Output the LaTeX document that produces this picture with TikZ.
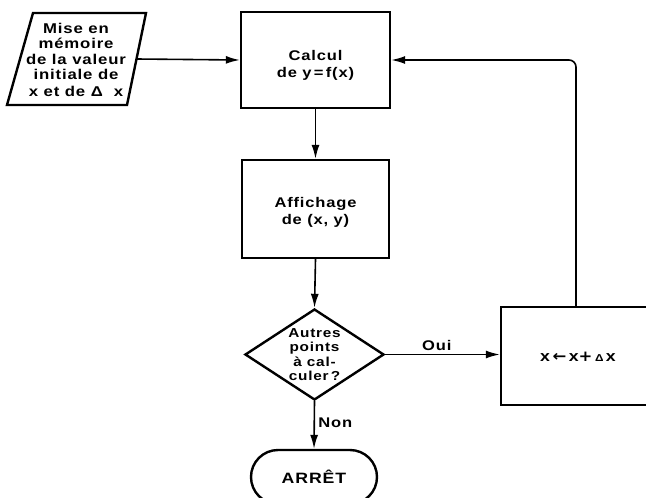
\documentclass[tikz,border=0pt]{standalone}
\usepackage{fontspec}
\setmainfont{Liberation Sans}[FakeStretch=1.18, LetterSpace=6]
\newfontfamily\symfont{DejaVu Sans}[FakeStretch=1.1]
\usetikzlibrary{shapes.geometric,shapes.misc,arrows.meta}
\begin{document}
\begin{tikzpicture}[x=1pt,y=-1pt,
  every node/.style={font=\fontsize{14}{17}\selectfont\bfseries, align=center},
  boxstyle/.style={draw, line width=2.4pt, rectangle, inner sep=0pt},
  arr/.style={-{Latex[length=14pt,width=8pt]}, line width=1.6pt}]
\clip (0,0) rectangle (646,498);
% input parallelogram
\coordinate (p1) at (33,13);
\coordinate (p2) at (146,13);
\coordinate (p3) at (127,105);
\coordinate (p4) at (7,105);
\draw[line width=2.4pt, line join=miter] (p1) -- (p2) -- (p3) -- (p4) -- cycle;
\node[font=\fontsize{14.2}{15.5}\selectfont\bfseries] (input) at (76,59.5) {Mise en\\mémoire\\de la valeur\\initiale de\\[1pt]x et de Δ\ \ x};
\coordinate (pout) at (136.5,59);
% boxes
\node[boxstyle, minimum width=149pt, minimum height=96pt] (calc) at (315.5,60) {};
\node (calctext) at (315.5,65) {Calcul\\de y\,=\,f(x)};
\node[boxstyle, minimum width=147pt, minimum height=98pt] (aff) at (315.5,209) {};
\node (afftext) at (315.5,212) {Affichage\\de (x, y)};
\node[draw, line width=2.4pt, diamond, inner sep=0pt, shape aspect=1.53, minimum width=139pt, minimum height=91pt,
  font=\fontsize{13}{14.5}\selectfont\bfseries] (dec) at (314.5,354.5) {Autres\\points\\à cal-\\culer\,?};
\node[draw, line width=2.4pt, rounded rectangle, minimum width=126pt, minimum height=54pt, inner sep=0pt,
  font=\fontsize{15}{17}\selectfont\bfseries] (stop) at (314,477) {ARRÊT};
\node[boxstyle, minimum width=190pt, minimum height=98pt] (upd) at (596,356) {};
\node[font=\fontsize{15}{17}\selectfont\bfseries] (updtext) at (578,357) {x\,{\symfont\bfseries ←}\,x{\symfont\bfseries +}\,{\fontsize{10}{10}\selectfont Δ}\,x};
\coordinate (fb) at (576,307);
% connectors
\draw[arr] (pout) -- (calc.west);
\draw[arr] (calc.south) -- (aff.north);
\draw[arr] (aff.south) -- (dec.north);
\draw[arr] (dec.east) -- node[above, pos=0.45] {Oui} (dec.east -| upd.west);
\draw[arr] (dec.south) -- node[right, pos=0.45] {Non} (stop.north);
\draw[arr, rounded corners=7pt] (fb) |- (calc.east);
\end{tikzpicture}
\end{document}
